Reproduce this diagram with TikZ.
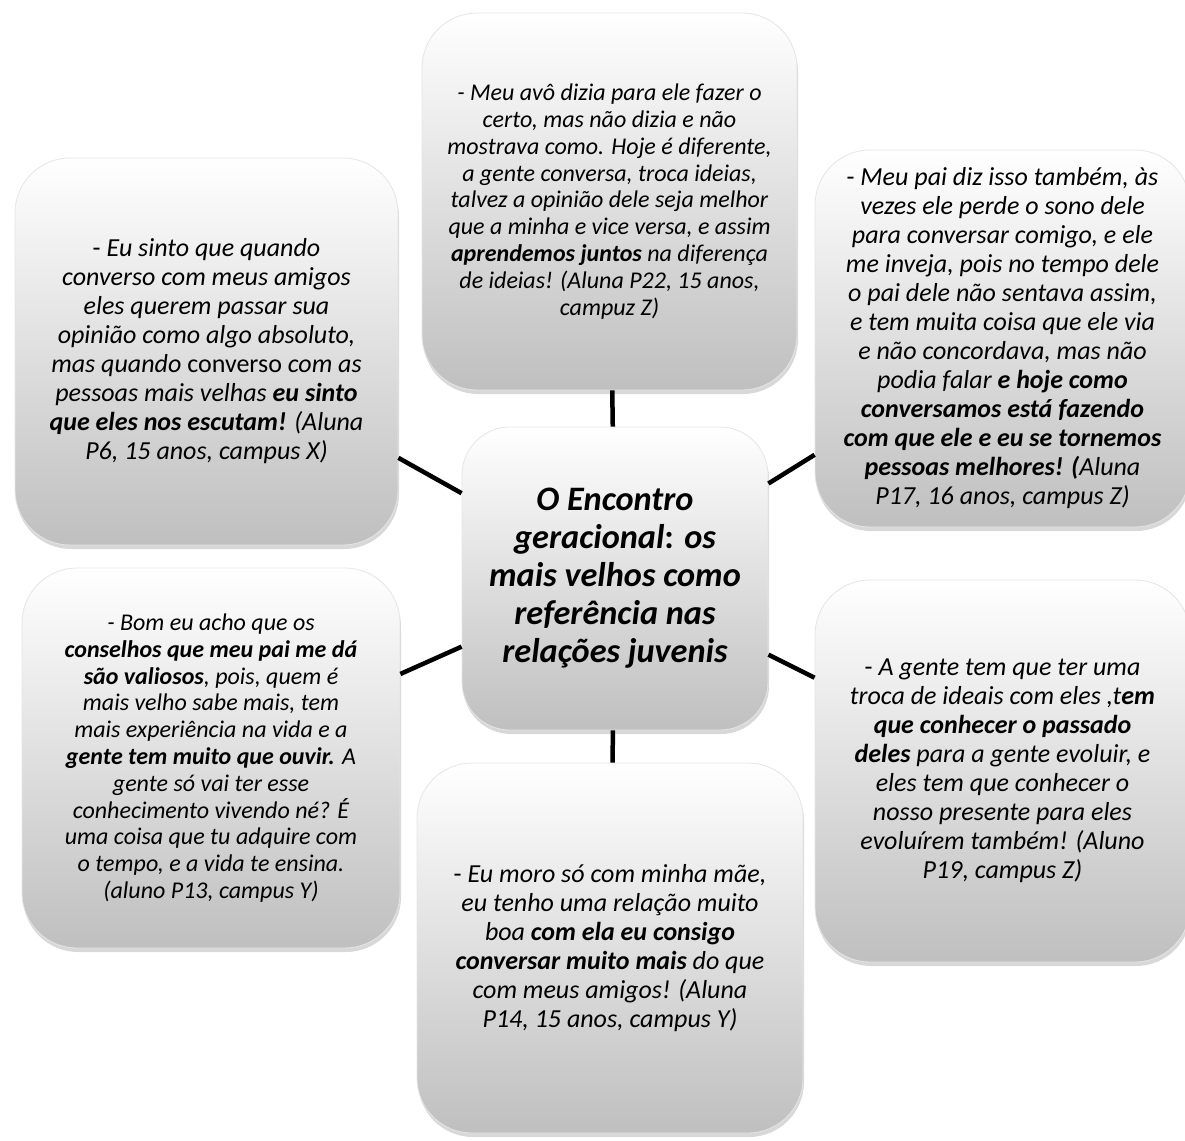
\documentclass[tikz,border=0pt]{standalone}
\usepackage{fontspec}
\setmainfont{Carlito}[
  BoldFont={Carlito Bold},
  ItalicFont={Carlito Italic},
  BoldItalicFont={Carlito Bold Italic}]
\usetikzlibrary{shadows}

\tikzset{
  card/.style={
    rectangle, rounded corners=55pt, inner sep=0pt, align=center,
    top color=white, bottom color=gray!50, draw=gray!20, line width=0.8pt,
    drop shadow={shadow xshift=1pt, shadow yshift=-4pt, opacity=0.28, fill=black!55}
  },
  smalltxt/.style={font=\itshape\fontsize{24}{26.8}\selectfont},
  bigtxt/.style={font=\itshape\fontsize{26}{29}\selectfont},
  hubtxt/.style={font=\bfseries\itshape\fontsize{34.3}{38}\selectfont},
  spoke/.style={line width=4.5pt, black}
}

\begin{document}
\begin{tikzpicture}[x=1pt, y=-1pt]
\useasboundingbox (0,0) rectangle (1185,1140);

% quotation cards around the central theme
\node[card, smalltxt, minimum width=375pt, minimum height=377pt] (top) at (609.5,201.5) {%
- Meu avô dizia para ele fazer o\\
certo, mas não dizia e não\\
mostrava como. Hoje é diferente,\\
a gente conversa, troca ideias,\\
talvez a opinião dele seja melhor\\
que a minha e vice versa, e assim\\
\textbf{aprendemos juntos} na diferença\\
de ideias! (Aluna P22, 15 anos,\\
campuz Z)};

\node[card, bigtxt, minimum width=383pt, minimum height=387pt] (tl) at (206.5,351.5) {%
\textup{-} Eu sinto que quando\\
converso com meus amigos\\
eles querem passar sua\\
opinião como algo absoluto,\\
mas quando \textup{converso} com as\\
pessoas mais velhas \textbf{eu sinto}\\
\textbf{que eles nos escutam!} (Aluna\\
P6, 15 anos, campus X)};

\node[card, bigtxt, minimum width=375pt, minimum height=377pt] (tr) at (1002.5,338.5) {%
\textup{-} Meu pai diz isso também, às\\
vezes ele perde o sono dele\\
para conversar comigo, e ele\\
me inveja, pois no tempo dele\\
o pai dele não sentava assim,\\
e tem muita coisa que ele via\\
e não concordava, mas não\\
podia falar \textbf{e hoje como}\\
\textbf{conversamos está fazendo}\\
\textbf{com que ele e eu se tornemos}\\
\textbf{pessoas melhores! (}Aluna\\
P17, 16 anos, campus Z)};

\node[card, smalltxt, minimum width=378pt, minimum height=380pt] (bl) at (211,758) {%
- Bom eu acho que os\\
\textbf{conselhos que meu pai me dá}\\
\textbf{são valiosos}, pois, quem é\\
mais velho sabe mais, tem\\
mais experiência na vida e a\\
\textbf{gente tem muito que ouvir.} A\\
gente só vai ter esse\\
conhecimento vivendo né? É\\
uma coisa que tu adquire com\\
o tempo, e a vida te ensina.\\
(aluno P13, campus Y)};

\node[card, bigtxt, minimum width=375pt, minimum height=382pt] (br) at (1002.5,771) {%
\textup{-} A gente tem que ter uma\\
troca de ideais com eles ,t\textbf{em}\\
\textbf{que conhecer o passado}\\
\textbf{deles} para a gente evoluir, e\\
eles tem que conhecer o\\
nosso presente para eles\\
evoluírem também! (Aluno\\
P19, campus Z)};

\node[card, bigtxt, minimum width=386pt, minimum height=370pt] (bot) at (610,948) {%
\textup{-} Eu moro só com minha mãe,\\
eu tenho uma relação muito\\
boa \textbf{com ela eu consigo}\\
\textbf{conversar muito mais} do que\\
com meus amigos! (Aluna\\
P14, 15 anos, campus Y)};

% central theme
\node[card, hubtxt, rounded corners=48pt, minimum width=306pt, minimum height=303pt] (hub) at (615,578.5) {%
O Encontro\\
geracional\textup{:} os\\
mais velhos como\\
referência nas\\
relações juvenis};

% spokes from the theme to each card
\draw[spoke] (hub) -- (top);
\draw[spoke] (hub) -- (tl);
\draw[spoke] (hub) -- (tr);
\draw[spoke] (hub) -- (bl);
\draw[spoke] (hub) -- (br);
\draw[spoke] (hub) -- (bot);
\end{tikzpicture}
\end{document}
